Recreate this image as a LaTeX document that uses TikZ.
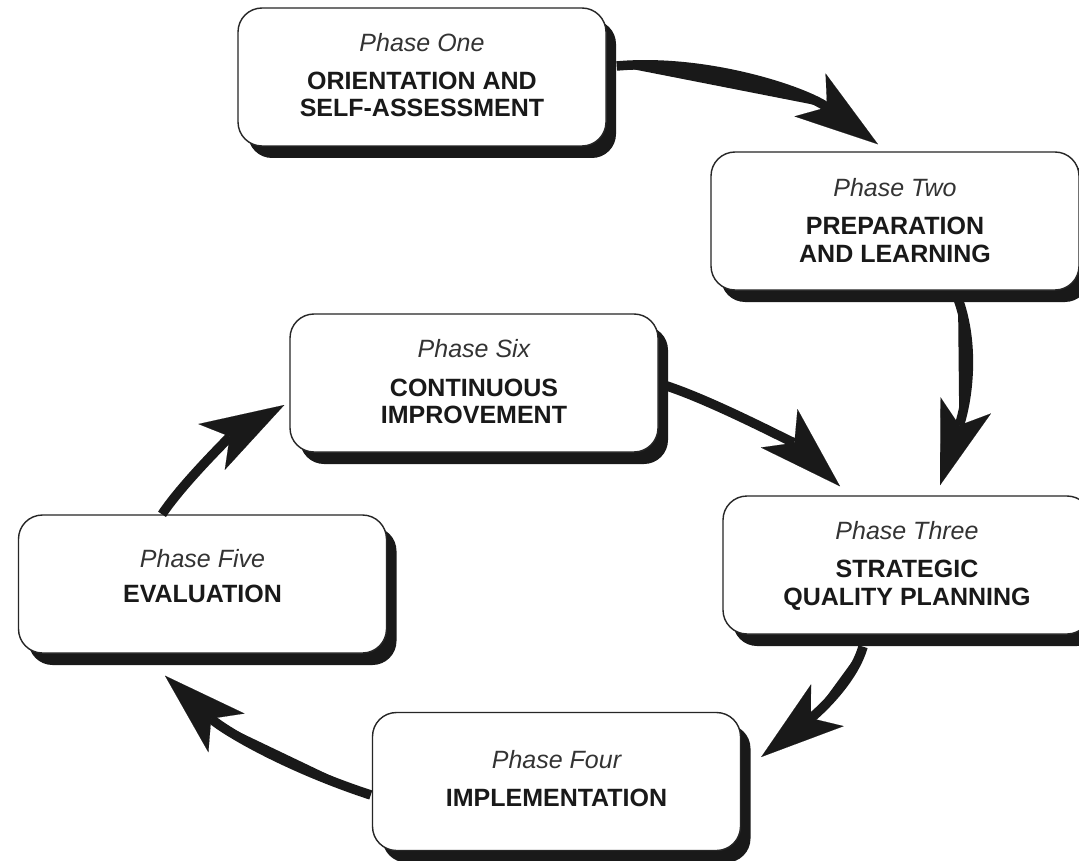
\documentclass[tikz,border=0pt]{standalone}
\usepackage{fontspec}
\setmainfont{Liberation Sans}
\usetikzlibrary{arrows.meta,calc,shadows}
\begin{document}
\begin{tikzpicture}[x=1pt,y=-1pt,
  phasebox/.style={draw=black!85, line width=1.4pt, fill=white, rounded corners=24pt,
    minimum width=368pt, minimum height=138pt, inner sep=0pt,
    drop shadow={shadow xshift=10pt, shadow yshift=-12pt, fill=black!90, opacity=1}},
  phasetitle/.style={anchor=base, inner sep=0pt, font=\fontsize{25}{29}\selectfont\itshape, text=black!80},
  phasename/.style={anchor=base, inner sep=0pt, font=\fontsize{25}{29}\selectfont\bfseries, text=black!90},
  flow/.style={line width=9.5pt, draw=black!90, fill=black!90,
    -{Stealth[length=84pt, width=53pt, inset=21pt, line width=0.1pt]}}
]
\useasboundingbox (0,0) rectangle (1079,861);
\fill[white] (0,0) rectangle (1079,861);

% boxes
\node[phasebox] (b1) at (422,77) {};
\node[phasebox] (b2) at (895,221) {};
\node[phasebox] (b3) at (907,565) {};
\node[phasebox] (b4) at (556.5,781.5) {};
\node[phasebox] (b5) at (202.5,584) {};
\node[phasebox] (b6) at (474,383) {};

% texts
\node[phasetitle] (t1) at ($(b1.center)+(0,-25)$) {Phase One};
\node[phasename] (n1a) at ($(b1.center)+(0,13)$) {ORIENTATION AND};
\node[phasename] (n1b) at ($(b1.center)+(0,40)$) {SELF-ASSESSMENT};

\node[phasetitle] (t2) at ($(b2.center)+(0,-24)$) {Phase Two};
\node[phasename] (n2a) at ($(b2.center)+(0,14)$) {PREPARATION};
\node[phasename] (n2b) at ($(b2.center)+(0,41)$) {AND LEARNING};

\node[phasetitle] (t3) at ($(b3.center)+(0,-26)$) {Phase Three};
\node[phasename] (n3a) at ($(b3.center)+(0,12)$) {STRATEGIC};
\node[phasename] (n3b) at ($(b3.center)+(0,40)$) {QUALITY PLANNING};

\node[phasetitle] (t4) at ($(b4.center)+(0,-13)$) {Phase Four};
\node[phasename] (n4a) at ($(b4.center)+(0,25)$) {IMPLEMENTATION};

\node[phasetitle] (t5) at ($(b5.center)+(0,-17)$) {Phase Five};
\node[phasename] (n5a) at ($(b5.center)+(0,18)$) {EVALUATION};

\node[phasetitle] (t6) at ($(b6.center)+(0,-26)$) {Phase Six};
\node[phasename] (n6a) at ($(b6.center)+(0,13)$) {CONTINUOUS};
\node[phasename] (n6b) at ($(b6.center)+(0,40)$) {IMPROVEMENT};

% connector end points
\coordinate (a1s) at ($(b1.east)+(10,-11)$);
\coordinate (a1e) at ($(b2.north)+(-17,-7)$);
\coordinate (a2s) at ($(b2.south)+(63,8)$);
\coordinate (a2e) at ($(b3.north)+(33,-10)$);
\coordinate (a3s) at ($(b3.south)+(-44,12)$);
\coordinate (a3e) at ($(b4.east)+(20,-24.5)$);
\coordinate (a4s) at ($(b4.west)+(-1,13.5)$);
\coordinate (a4e) at ($(b5.south)+(-37.5,22)$);
\coordinate (a5s) at ($(b5.north)+(-40.5,0)$);
\coordinate (a5e) at ($(b6.west)+(-5,22)$);
\coordinate (a6s) at ($(b6.east)+(5,2)$);
\coordinate (a6e) at ($(b3.north)+(-67,-9)$);

% connectors
\draw[flow] (a1s) .. controls ($(a1s)+(90,-8)$) and ($(a1e)+(-73,-53)$) .. (a1e);
\draw[flow] (a2s) .. controls ($(a2s)+(17,47)$) and ($(a2e)+(28,-87)$) .. (a2e);
\draw[flow] (a3s) .. controls ($(a3s)+(-10,35)$) and ($(a3e)+(55,-43)$) .. (a3e);
\draw[flow] (a4s) .. controls ($(a4s)+(-85.5,-28)$) and ($(a4e)+(58,54)$) .. (a4e);
\draw[flow] (a5s) .. controls ($(a5s)+(22,-33)$) and ($(a5e)+(-52,30)$) .. (a5e);
\draw[flow] (a6s) .. controls ($(a6s)+(48,15)$) and ($(a6e)+(-43,-41)$) .. (a6e);
\end{tikzpicture}
\end{document}
